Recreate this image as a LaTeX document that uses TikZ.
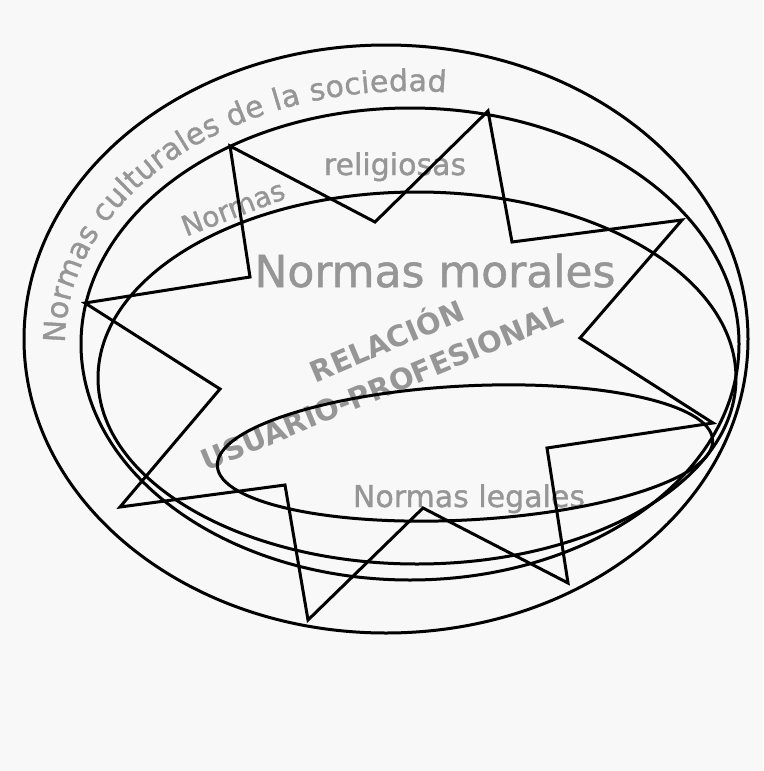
\documentclass[tikz,border=0pt]{standalone}
\usepackage{fontspec}
\setmainfont{DejaVu Sans}
\newfontfamily\heavyfont{DejaVu Sans}[FakeBold=1.2]
\usetikzlibrary{decorations.text}
\definecolor{bgcol}{RGB}{248,248,248}
\definecolor{txtgray}{RGB}{150,150,150}
\newcommand\fsz[1]{\fontsize{#1}{#1}\selectfont}
\begin{document}
\begin{tikzpicture}[x=1pt,y=-1pt,
  ring/.style={draw=black, line width=3pt},
  starline/.style={draw=black, line width=3pt, line join=miter},
  lbl/.style={text=txtgray, inner sep=0pt},
]
\fill[bgcol] (0,0) rectangle (763,771);
\useasboundingbox (0,0) rectangle (763,771);

% texts
\path[decorate, decoration={text along path, text align=fit to path,
  text={|\heavyfont\fsz{30}\color{txtgray}|Normas culturales de la sociedad}}]
  (410,343) ++(180:345 and 252) arc[start angle=180, end angle=276, x radius=345, y radius=252];
\node[lbl, rotate=21, font=\heavyfont\fsz{28}] (relA) at (233,208) {Normas};
\node[lbl, anchor=base, font=\heavyfont\fsz{30}] (relB) at (395,175) {religiosas};
\node[lbl, anchor=base, font=\heavyfont\fsz{44}] (mor) at (435,287) {Normas morales};
\node[lbl, anchor=base, rotate=23, font=\fsz{29}\bfseries] (relac) at (391,351) {RELACIÓN};
\node[lbl, anchor=base, rotate=22.6, font=\fsz{29}\bfseries] (usu) at (386,397) {USUARIO-PROFESIONAL};
\node[lbl, anchor=base, font=\heavyfont\fsz{30}] (leg) at (469,507) {Normas legales};

% ellipses
\draw[ring] (386,339) ellipse[x radius=362, y radius=294];
\draw[ring] (410,344) ellipse[x radius=329, y radius=236];
\draw[ring] (417,378) ellipse[x radius=319, y radius=186];
\draw[ring, rotate around={3:(465,453)}] (465,453) ellipse[x radius=248, y radius=67];

% star
\draw[starline] (85,303) -- (250,277) -- (230,146) -- (375,222) -- (488,111)
  -- (512,242) -- (682,220) -- (580,338) -- (713,423) -- (547,448)
  -- (568,583) -- (423,508) -- (308,620) -- (285,485) -- (120,507)
  -- (220,389) -- cycle;
\end{tikzpicture}
\end{document}
